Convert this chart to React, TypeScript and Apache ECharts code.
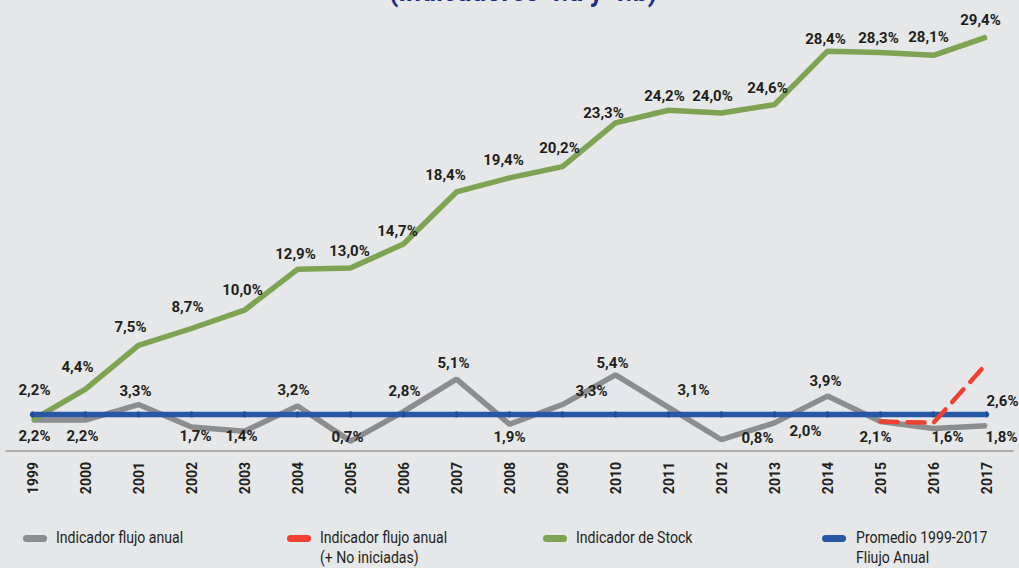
import React, { useEffect, useRef } from "react";
import * as echarts from "echarts";

const years = ["1999","2000","2001","2002","2003","2004","2005","2006","2007","2008","2009","2010","2011","2012","2013","2014","2015","2016","2017"];
const flujo = [2.2,2.2,3.3,1.7,1.4,3.2,0.7,2.8,5.1,1.9,3.3,5.4,3.1,0.8,2.0,3.9,2.1,1.6,1.8];
const flujoNoIniciadas: (number | null)[] = [null,null,null,null,null,null,null,null,null,null,null,null,null,null,null,null,2.1,2.0,6.2];
const stock = [2.2,4.4,7.5,8.7,10.0,12.9,13.0,14.7,18.4,19.4,20.2,23.3,24.2,24.0,24.6,28.4,28.3,28.1,29.4];
const promedio = [2.6,2.6,2.6,2.6,2.6,2.6,2.6,2.6,2.6,2.6,2.6,2.6,2.6,2.6,2.6,2.6,2.6,2.6,2.6];

const NAME_FLUJO = "Indicador flujo anual";
const NAME_NOINI = "Indicador flujo anual (+ No iniciadas)";
const NAME_STOCK = "Indicador de Stock";
const NAME_PROM = "Promedio 1999-2017 Flujo Anual";

// label placement (label centre relative to the point, px)
const flujoLabelOffsets = [[2,16],[-3,16],[-3,-14],[4,9],[-3,5],[-4,-16],[-3,-4],[1,-21],[-3,-16],[0,13],[29,-14],[-3,-12],[25,-17],[36,-2],[31,8],[-2,-15],[-5,16],[14,9],[15,11]];
const stockLabelOffsets = [[2,-30],[-8,-22],[-8,-18],[-4,-22],[-2,-20],[-2,-15],[-1,-17],[-6,-13],[-11,-17],[-6,-18],[-3,-19],[-12,-10],[-4,-14],[-9,-17],[-7,-17],[-2,-12],[-2,-15],[-5,-18],[-6,-17]];
const noIniLabelOffsets: Record<number, number[]> = { 17: [6,-35], 18: [-4,-20] };
const promLabelOffset = [16,-13];

const FONT = "Roboto, 'Liberation Sans', sans-serif";
const TXT = "#231f20";
const C_GRAY = "#8c8d8f";
const C_RED = "#ee4130";
const C_GREEN = "#7ea453";
const C_BLUE = "#2757a5";

const fmt = (p: any) => {
  const v = typeof p.value === "number" ? p.value : Number(p.value);
  return v.toFixed(1).replace(".", ",") + "%";
};

const baseLabel = {
  show: true,
  position: "inside",
  formatter: fmt,
  color: TXT,
  fontSize: 15,
  fontWeight: "bold",
  fontFamily: FONT,
};

export default function App() {
  const ref = useRef<HTMLDivElement>(null);
  useEffect(() => {
    if (!ref.current) return;
    const chart = echarts.init(ref.current, null, { renderer: "svg" });
    const legendItems = [
      { x: 23, tx: 56, color: C_GRAY, l1: "Indicador flujo anual", l2: "" },
      { x: 287, tx: 320, color: C_RED, l1: "Indicador flujo anual", l2: "(+ No iniciadas)" },
      { x: 543, tx: 576, color: C_GREEN, l1: "Indicador de Stock", l2: "" },
      { x: 822, tx: 856, color: C_BLUE, l1: "Promedio 1999-2017", l2: "Fliujo Anual" },
    ];
    const graphics: any[] = [
      {
        type: "text",
        x: 523,
        y: -9,
        scaleX: 0.92,
        style: {
          text: "(Indicadores 4.a y 4.b)",
          fontSize: 29,
          fontWeight: "bold",
          fontFamily: FONT,
          fill: "#1b2d84",
          align: "center",
          verticalAlign: "middle",
        },
      },
    ];
    legendItems.forEach((it) => {
      graphics.push({
        type: "rect",
        shape: { x: it.x, y: 535, width: 24, height: 7, r: 3.5 },
        style: { fill: it.color },
      });
      graphics.push({
        type: "text",
        x: it.tx,
        y: 538,
        scaleX: 0.88,
        style: { text: it.l1, fontSize: 16, fontFamily: FONT, fill: TXT, verticalAlign: "middle" },
      });
      if (it.l2) {
        graphics.push({
          type: "text",
          x: it.tx,
          y: 558,
          scaleX: 0.88,
          style: { text: it.l2, fontSize: 16, fontFamily: FONT, fill: TXT, verticalAlign: "middle" },
        });
      }
    });

    chart.setOption({
      animation: false,
      backgroundColor: "#e6e7e9",
      grid: { left: 6, right: 6, top: 28.6, bottom: 117, containLabel: false },
      xAxis: {
        type: "category",
        data: years,
        boundaryGap: true,
        axisLine: { lineStyle: { color: "#9b9b9b", width: 1.5 } },
        axisTick: { show: false },
        axisLabel: {
          rotate: 90,
          margin: 11,
          color: TXT,
          fontSize: 14,
          fontWeight: "bold",
          fontFamily: FONT,
        },
      },
      yAxis: {
        type: "value",
        min: 0,
        max: 30,
        show: false,
        splitLine: { show: false },
      },
      graphic: graphics,
      series: [
        {
          name: NAME_FLUJO,
          type: "line",
          z: 2,
          data: flujo.map((v, i) => ({ value: v, label: { offset: flujoLabelOffsets[i] } })),
          symbol: "circle",
          symbolSize: 2,
          itemStyle: { color: C_GRAY },
          lineStyle: { color: C_GRAY, width: 5.5 },
          label: baseLabel,
        },
        {
          name: NAME_STOCK,
          type: "line",
          z: 3,
          data: stock.map((v, i) => ({ value: v, label: { offset: stockLabelOffsets[i] } })),
          symbol: "circle",
          symbolSize: 2,
          itemStyle: { color: C_GREEN },
          lineStyle: { color: C_GREEN, width: 5.5 },
          label: baseLabel,
        },
        {
          name: NAME_PROM,
          type: "line",
          z: 4,
          data: promedio.map((v, i) => ({
            value: v,
            label: i === promedio.length - 1 ? { show: true, offset: promLabelOffset } : { show: false },
          })),
          symbol: "rect",
          symbolSize: [2, 6],
          itemStyle: { color: "#1d4b95" },
          lineStyle: { color: C_BLUE, width: 5.5, cap: "round" },
          label: baseLabel,
        },
        {
          name: NAME_NOINI,
          type: "line",
          z: 5,
          data: flujoNoIniciadas.map((v, i) =>
            v === null
              ? "-"
              : {
                  value: v,
                  label: noIniLabelOffsets[i] ? { show: true, offset: noIniLabelOffsets[i] } : { show: false },
                }
          ),
          symbol: "none",
          showSymbol: true,
          itemStyle: { color: C_RED },
          lineStyle: { color: C_RED, width: 4.5, type: [17, 10], cap: "round" },
          label: baseLabel,
        },
      ],
    });
    return () => chart.dispose();
  }, []);
  return (
    <div
      ref={ref}
      style={{ position: "fixed", left: 0, top: 0, width: 1019, height: 568 }}
    />
  );
}
